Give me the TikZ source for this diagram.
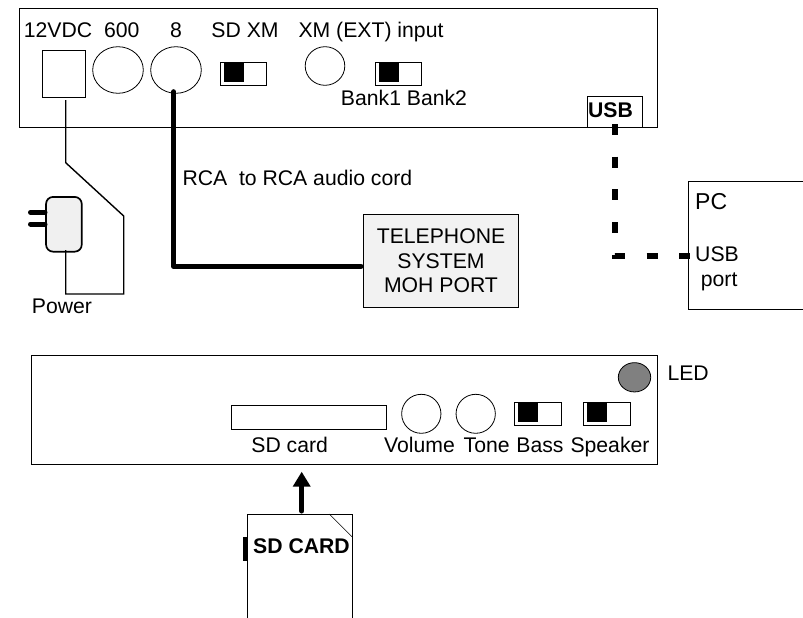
\documentclass[tikz,border=0pt]{standalone}
\usepackage{fontspec}
\setmainfont{Liberation Sans}
\usepackage{tikz}
\usetikzlibrary{shapes.geometric,arrows.meta}

\tikzset{
    panel/.style={draw, line width=0.9pt, inner sep=0pt},
    jack/.style={draw, ellipse, line width=0.8pt, inner sep=0pt},
    lbl/.style={inner sep=0pt, anchor=base, font=\fontsize{21.2}{24.5}\selectfont},
    boldlbl/.style={lbl, font=\fontsize{21.2}{24.5}\selectfont\bfseries},
    slider/.style={draw, line width=0.8pt, inner sep=0pt, minimum width=46.7pt, minimum height=23.5pt},
    knob/.style={fill=black, inner sep=0pt, minimum width=20pt, minimum height=19.7pt},
    cord/.style={line width=1.4pt},
    audiocord/.style={line width=5pt, line cap=round, line join=round},
    usbcord/.style={line width=5.5pt, dash pattern=on 11pt off 21.7pt}
}

\begin{document}
\begin{tikzpicture}[x=1pt,y=-1pt]
\useasboundingbox (0,0) rectangle (803,618);

% Rear panel
\node[panel, minimum width=638pt, minimum height=119.4pt] (rear) at (338,68) {};
\node[panel, line width=0.8pt, minimum width=42.4pt, minimum height=46.4pt] (dc) at (63.9,73.9) {};
\node[jack, minimum width=50.6pt, minimum height=46.6pt] (jack600) at (118,70) {};
\node[jack, minimum width=50.6pt, minimum height=46.6pt] (jack8) at (176,70) {};
\node[jack, minimum width=39.6pt, minimum height=38.6pt] (jackxm) at (325,66) {};
\node[panel, minimum width=55pt, minimum height=31pt] (usb) at (614.8,112.2) {};

\node[lbl] (t12v) at (58,38) {12VDC};
\node[lbl] (t600) at (121.7,38) {600};
\node[lbl] (t8) at (176,38) {8};
\node[lbl] (tsdxm) at (245,38) {SD XM};
\node[lbl] (txm) at (371,38) {XM (EXT) input};
\node[lbl] (tbank) at (404,105) {Bank1 Bank2};
\node[boldlbl] (tusb) at (610.5,117) {USB};

% Sliders on both panels
\foreach \name/\x/\y in {sdxm/243.3/73.7, bank/398.3/73.7, bass/537.7/413.9, speaker/606.7/413.9}{
    \node[slider] (\name) at (\x,\y) {};
    \node[knob] (\name knob) at ([xshift=-9.5pt,yshift=2pt]\name.center) {};
}

% Power cord and adapter
\node[draw, line width=1.7pt, fill=black!6, rounded corners=7pt, minimum width=35.7pt, minimum height=54.7pt] (adapter) at (63.9,224.3) {};
\coordinate (dcpin) at (65.7,100);
\coordinate (adapterpin) at (65.7,250);
\draw[cord] (dcpin) -- (65.7,162.7) -- (123.7,216) -- (123.7,294) -- (65.7,294) -- (adapterpin);
\foreach \y in {212.3, 224}
    \draw[line width=5pt, line cap=round] (45,\y) -- (30.5,\y);
\node[lbl] (tpower) at (62,313) {Power};

% Audio cord to the telephone system
\node[draw, line width=1.5pt, fill=black!5, inner sep=0pt, minimum width=155.4pt, minimum height=93pt, align=center, font=\fontsize{21.2}{24.5}\selectfont] (phone) at (441,260.8) {TELEPHONE\\SYSTEM\\MOH PORT};
\coordinate (rcaplug) at (173.7,91.7);
\coordinate (mohplug) at (361,266.3);
\draw[audiocord] (rcaplug) |- (mohplug);
\node[lbl, anchor=base west] (trca) at (182.3,185.7) {RCA\ \ to RCA audio cord};

% PC, its right side is cut off
\draw[line width=0.9pt] (803,181.7) -- (688.3,181.7) -- (688.3,309.3) -- (803,309.3);
\node[lbl, anchor=base west, font=\fontsize{23}{27}\selectfont] (tpc) at (695,209.3) {PC};
\node[lbl, anchor=base west] (tpcusb) at (695,261.7) {USB};
\node[lbl, anchor=base west] (tport) at (700.7,286) {port};

% USB cable
\coordinate (usbplug) at (615,124);
\coordinate (pcplug) at (690,256);
\draw[usbcord] (usbplug) |- (pcplug);

% Front panel
\node[panel, minimum width=626.3pt, minimum height=108.3pt] (front) at (344.2,409.8) {};
\node[draw, line width=1.4pt, inner sep=0pt, minimum width=155pt, minimum height=23.6pt] (slot) at (309.2,417.5) {};
\node[jack, minimum width=39.3pt, minimum height=39pt] (volume) at (421.3,413.8) {};
\node[jack, minimum width=39.3pt, minimum height=39pt] (tone) at (475.7,413.8) {};
\node[jack, fill=black!50, minimum width=32.4pt, minimum height=29.3pt] (led) at (634.5,377.3) {};

\node[lbl] (tslot) at (289.7,452.7) {SD card};
\node[lbl] (tvolume) at (419.5,452.7) {Volume};
\node[lbl] (ttone) at (486.7,452.7) {Tone};
\node[lbl] (tbass) at (540,452.7) {Bass};
\node[lbl] (tspeaker) at (610,452.7) {Speaker};
\node[lbl, anchor=base west] (tled) at (667.3,380.7) {LED};

% SD card, it runs off the bottom
\draw[line width=0.9pt] (247.3,618) -- (247.3,514) -- (352,514) -- (352,618);
\draw[line width=0.6pt] (329.3,514) -- (352,536.7);
\fill (243.3,537) rectangle (247.3,561.3);
\node[boldlbl] (tcard) at (301.5,553.3) {SD CARD};

% Insert arrow
\coordinate (cardtop) at (301.7,511);
\coordinate (slotin) at (301.7,471.7);
\draw[line width=5pt, line cap=round, -{Triangle[length=15pt,width=17pt]}] (cardtop) -- (slotin);

\end{tikzpicture}
\end{document}
